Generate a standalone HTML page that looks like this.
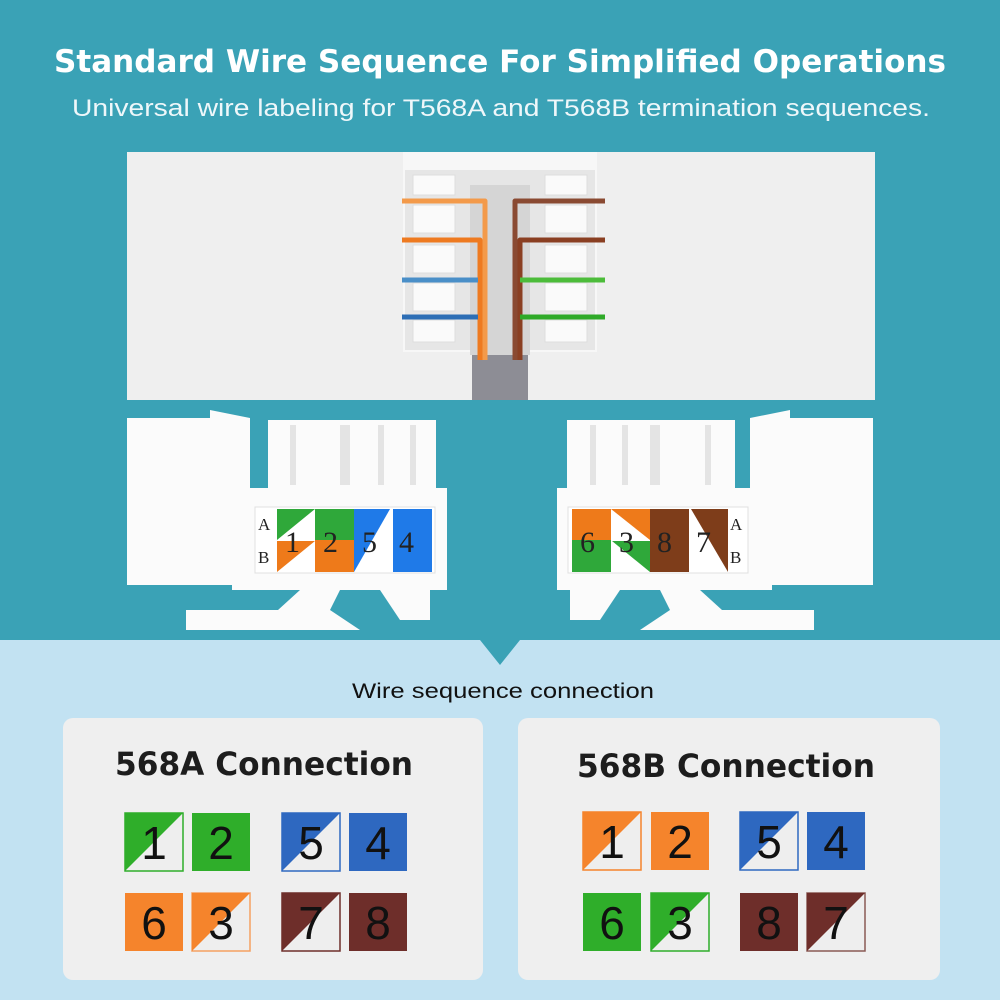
<!DOCTYPE html>
<html><head><meta charset="utf-8"><style>html,body{margin:0;padding:0;background:#3aa2b6}svg{display:block}</style></head>
<body>
<svg width="1000" height="1000" viewBox="0 0 1000 1000" xmlns="http://www.w3.org/2000/svg">
<rect x="0" y="0" width="1000" height="1000" fill="#3aa2b6"/>
<polygon points="0,640 480,640 500,665 520,640 1000,640 1000,1000 0,1000" fill="#c2e2f2"/>
<text x="500" y="72" text-anchor="middle" font-family="DejaVu Sans, sans-serif" font-weight="bold" font-size="31" fill="#fff" textLength="892" lengthAdjust="spacingAndGlyphs">Standard Wire Sequence For Simplified Operations</text>
<text x="501" y="116" text-anchor="middle" font-family="Liberation Sans, sans-serif" font-size="24" fill="#eef7fa" textLength="858" lengthAdjust="spacingAndGlyphs">Universal wire labeling for T568A and T568B termination sequences.</text>

<!-- photo -->
<rect x="127" y="152" width="748" height="248" fill="#efefef"/>
<rect x="403" y="152" width="194" height="200" fill="#f7f7f7"/>
<rect x="405" y="170" width="190" height="180" fill="#e6e6e6"/>
<rect x="470" y="185" width="60" height="170" fill="#d5d5d5"/>
<g fill="#fafafa" stroke="#ddd">
<rect x="413" y="175" width="42" height="20"/><rect x="413" y="205" width="42" height="28"/><rect x="413" y="245" width="42" height="28"/><rect x="413" y="283" width="42" height="28"/><rect x="413" y="320" width="42" height="22"/>
<rect x="545" y="175" width="42" height="20"/><rect x="545" y="205" width="42" height="28"/><rect x="545" y="245" width="42" height="28"/><rect x="545" y="283" width="42" height="28"/><rect x="545" y="320" width="42" height="22"/>
</g>
<rect x="472" y="355" width="56" height="45" fill="#8d8d95"/>
<g fill="none" stroke-width="5" stroke-linejoin="round">
<path d="M402,201 H485 V360" stroke="#f39a4a"/>
<path d="M402,240 H480 V360" stroke="#ee7a20"/>
<path d="M402,280 H478" stroke="#4a8fc8"/>
<path d="M402,317 H478" stroke="#2d6eb5"/>
<path d="M605,201 H515 V360" stroke="#8a4a32"/>
<path d="M605,240 H520 V360" stroke="#8a3f22"/>
<path d="M605,280 H520" stroke="#4cbc3a"/>
<path d="M605,317 H520" stroke="#2faa28"/>
</g>

<!-- left keystone -->
<g fill="#fbfbfb">
<polygon points="127,418 210,418 210,410 250,418 250,585 127,585"/>
<rect x="268" y="420" width="168" height="72"/>
<rect x="232" y="488" width="215" height="102"/>
<polygon points="186,610 278,610 300,590 340,590 330,610 360,630 186,630"/>
<polygon points="380,590 430,590 430,620 400,620"/>
</g>
<g fill="#e4e4e4"><rect x="290" y="425" width="6" height="60"/><rect x="340" y="425" width="10" height="60"/><rect x="378" y="425" width="6" height="60"/><rect x="410" y="425" width="6" height="60"/></g>
<rect x="255" y="507" width="180" height="66" fill="#fff" stroke="#e0e0e0"/>
<g>
<rect x="277" y="509" width="38" height="63" fill="#fff"/>
<polygon points="277,509 315,509 277,540" fill="#2fa83a"/>
<polygon points="277,572 315,541 277,541" fill="#ee7a1a"/>
<rect x="315" y="509" width="39" height="31" fill="#2fa83a"/><rect x="315" y="540" width="39" height="32" fill="#ee7a1a"/>
<rect x="354" y="509" width="39" height="63" fill="#fff"/><polygon points="354,509 390,509 354,572" fill="#1f7ae8"/>
<rect x="393" y="509" width="39" height="63" fill="#1f7ae8"/>
</g>
<g font-family="Liberation Serif, serif" font-size="30" fill="#222">
<text x="285" y="552">1</text><text x="323" y="552">2</text><text x="362" y="552">5</text><text x="399" y="552">4</text>
</g>
<g font-family="Liberation Serif, serif" font-size="17" fill="#222"><text x="258" y="530">A</text><text x="258" y="563">B</text></g>

<!-- right keystone -->
<g fill="#fbfbfb">
<polygon points="873,418 790,418 790,410 750,418 750,585 873,585"/>
<rect x="567" y="420" width="168" height="72"/>
<rect x="557" y="488" width="215" height="102"/>
<polygon points="814,610 722,610 700,590 660,590 670,610 640,630 814,630"/>
<polygon points="570,590 620,590 600,620 570,620"/>
</g>
<g fill="#e4e4e4"><rect x="590" y="425" width="6" height="60"/><rect x="622" y="425" width="6" height="60"/><rect x="650" y="425" width="10" height="60"/><rect x="705" y="425" width="6" height="60"/></g>
<rect x="568" y="507" width="180" height="66" fill="#fff" stroke="#e0e0e0"/>
<g>
<rect x="572" y="509" width="39" height="31" fill="#ee7a1a"/><rect x="572" y="540" width="39" height="32" fill="#2fa83a"/>
<rect x="611" y="509" width="39" height="63" fill="#fff"/>
<polygon points="611,509 650,509 650,540" fill="#ee7a1a"/>
<polygon points="612,541 650,541 650,572" fill="#2fa83a"/>
<rect x="650" y="509" width="39" height="63" fill="#7e3d1a"/>
<rect x="689" y="509" width="39" height="63" fill="#fff"/><polygon points="691,509 728,509 728,572" fill="#7e3d1a"/>
</g>
<g font-family="Liberation Serif, serif" font-size="30" fill="#222">
<text x="580" y="552">6</text><text x="619" y="552">3</text><text x="657" y="552">8</text><text x="696" y="552">7</text>
</g>
<g font-family="Liberation Serif, serif" font-size="17" fill="#222"><text x="730" y="530">A</text><text x="730" y="563">B</text></g>

<text x="503" y="698" text-anchor="middle" font-family="Liberation Sans, sans-serif" font-size="21" fill="#111" textLength="302" lengthAdjust="spacingAndGlyphs">Wire sequence connection</text>

<rect x="63" y="718" width="420" height="262" rx="10" fill="#efefef"/>
<rect x="518" y="718" width="422" height="262" rx="10" fill="#efefef"/>
<text x="115" y="775" font-family="DejaVu Sans, sans-serif" font-weight="bold" font-size="32" fill="#1d1d1d" textLength="298" lengthAdjust="spacingAndGlyphs">568A Connection</text>
<text x="577" y="777" font-family="DejaVu Sans, sans-serif" font-weight="bold" font-size="32" fill="#1d1d1d" textLength="298" lengthAdjust="spacingAndGlyphs">568B Connection</text>

<defs>
<g id="n"></g>
</defs>
<g font-family="Liberation Sans, sans-serif" font-size="46" fill="#111" text-anchor="middle">
<!-- 568A -->
<rect x="125" y="813" width="58" height="58" fill="#eee" stroke="#2fae2a" stroke-width="1.5"/><polygon points="125,813 183,813 125,871" fill="#2fae2a"/><text x="154" y="859">1</text>
<rect x="192" y="813" width="58" height="58" fill="#2fae2a"/><text x="221" y="859">2</text>
<rect x="282" y="813" width="58" height="58" fill="#eee" stroke="#2e68c0" stroke-width="1.5"/><polygon points="282,813 340,813 282,871" fill="#2e68c0"/><text x="311" y="859">5</text>
<rect x="349" y="813" width="58" height="58" fill="#2e68c0"/><text x="378" y="859">4</text>
<rect x="125" y="893" width="58" height="58" fill="#f5842c"/><text x="154" y="939">6</text>
<rect x="192" y="893" width="58" height="58" fill="#eee" stroke="#f5a060" stroke-width="1.5"/><polygon points="192,893 250,893 192,951" fill="#f5842c"/><text x="221" y="939">3</text>
<rect x="282" y="893" width="58" height="58" fill="#eee" stroke="#6e2e2a" stroke-width="1.5"/><polygon points="282,893 340,893 282,951" fill="#6e2e2a"/><text x="311" y="939">7</text>
<rect x="349" y="893" width="58" height="58" fill="#6e2e2a"/><text x="378" y="939">8</text>
<!-- 568B -->
<rect x="583" y="812" width="58" height="58" fill="#eee" stroke="#f5842c" stroke-width="1.5"/><polygon points="583,812 641,812 583,870" fill="#f5842c"/><text x="612" y="858">1</text>
<rect x="651" y="812" width="58" height="58" fill="#f5842c"/><text x="680" y="858">2</text>
<rect x="740" y="812" width="58" height="58" fill="#eee" stroke="#2e68c0" stroke-width="1.5"/><polygon points="740,812 798,812 740,870" fill="#2e68c0"/><text x="769" y="858">5</text>
<rect x="807" y="812" width="58" height="58" fill="#2e68c0"/><text x="836" y="858">4</text>
<rect x="583" y="893" width="58" height="58" fill="#2fae2a"/><text x="612" y="939">6</text>
<rect x="651" y="893" width="58" height="58" fill="#eee" stroke="#2fae2a" stroke-width="1.5"/><polygon points="651,893 709,893 651,951" fill="#2fae2a"/><text x="680" y="939">3</text>
<rect x="740" y="893" width="58" height="58" fill="#6e2e2a"/><text x="769" y="939">8</text>
<rect x="807" y="893" width="58" height="58" fill="#eee" stroke="#8a5a55" stroke-width="1.5"/><polygon points="807,893 865,893 807,951" fill="#6e2e2a"/><text x="836" y="939">7</text>
</g>
</svg>
</body></html>
